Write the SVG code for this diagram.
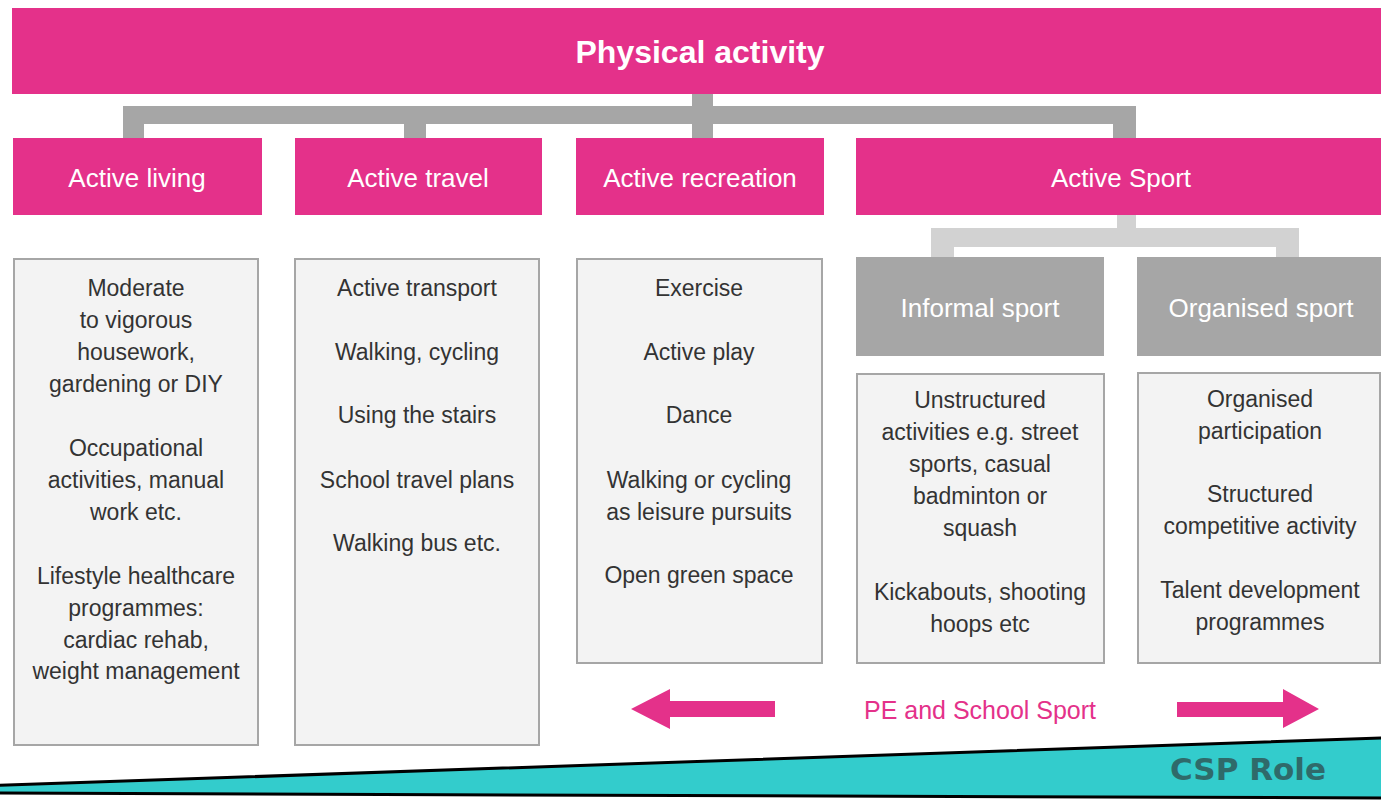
<svg xmlns="http://www.w3.org/2000/svg" width="1381" height="801" viewBox="0 0 1381 801">
<style>
.pink{fill:#e4318a}
.gbox{fill:#a6a6a6}
.cbox{fill:#f3f3f3;stroke:#a6a6a6;stroke-width:2}
.conn{fill:#a6a6a6}
.conn2{fill:#d2d2d2}
.h1{font-family:"Liberation Sans",Arial,sans-serif;font-weight:bold;font-size:32px;fill:#ffffff;text-anchor:middle}
.h2{font-family:"Liberation Sans",Arial,sans-serif;font-size:26px;fill:#ffffff;text-anchor:middle}
.t{font-family:"Liberation Sans",Arial,sans-serif;font-size:23px;fill:#333333;text-anchor:middle}
.pe{font-family:"Liberation Sans",Arial,sans-serif;font-size:25px;fill:#e4318a;text-anchor:middle}
.csp{font-family:"DejaVu Sans","Liberation Sans",sans-serif;font-weight:bold;font-size:31px;fill:#2f6a6a;text-anchor:middle}
</style>

<g id="connectors">
  <rect class="conn" x="692" y="93" width="21" height="14"/>
  <rect class="conn" x="123" y="106" width="1013" height="18"/>
  <rect class="conn" x="123" y="106" width="21" height="33"/>
  <rect class="conn" x="404" y="106" width="22" height="33"/>
  <rect class="conn" x="692" y="106" width="21" height="33"/>
  <rect class="conn" x="1113" y="106" width="23" height="33"/>
  <rect class="conn2" x="1117" y="214" width="19" height="16"/>
  <rect class="conn2" x="931" y="228" width="368" height="19"/>
  <rect class="conn2" x="931" y="228" width="23" height="30"/>
  <rect class="conn2" x="1276" y="228" width="23" height="30"/>
</g>

<g id="physical-activity">
  <rect class="pink" x="12" y="8" width="1369" height="86"/>
  <text class="h1" x="700" y="63">Physical activity</text>
</g>

<g id="active-living">
  <rect class="pink" x="13" y="138" width="249" height="77"/>
  <text class="h2" x="137" y="187">Active living</text>
</g>
<g id="active-travel">
  <rect class="pink" x="295" y="138" width="247" height="77"/>
  <text class="h2" x="418" y="187">Active travel</text>
</g>
<g id="active-recreation">
  <rect class="pink" x="576" y="138" width="248" height="77"/>
  <text class="h2" x="700" y="187">Active recreation</text>
</g>
<g id="active-sport">
  <rect class="pink" x="856" y="138" width="525" height="77"/>
  <text class="h2" x="1121" y="187">Active Sport</text>
</g>

<g id="informal-sport">
  <rect class="gbox" x="856" y="257" width="248" height="99"/>
  <text class="h2" x="980" y="317">Informal sport</text>
</g>
<g id="organised-sport">
  <rect class="gbox" x="1137" y="257" width="244" height="99"/>
  <text class="h2" x="1261" y="317">Organised sport</text>
</g>

<g id="living-details">
  <rect class="cbox" x="14" y="259" width="244" height="486"/>
  <text class="t" x="136" y="296">Moderate</text>
  <text class="t" x="136" y="328">to vigorous</text>
  <text class="t" x="136" y="360">housework,</text>
  <text class="t" x="136" y="392">gardening or DIY</text>
  <text class="t" x="136" y="456">Occupational</text>
  <text class="t" x="136" y="488">activities, manual</text>
  <text class="t" x="136" y="520">work etc.</text>
  <text class="t" x="136" y="584">Lifestyle healthcare</text>
  <text class="t" x="136" y="616">programmes:</text>
  <text class="t" x="136" y="648">cardiac rehab,</text>
  <text class="t" x="136" y="679">weight management</text>
</g>

<g id="travel-details">
  <rect class="cbox" x="295" y="259" width="244" height="486"/>
  <text class="t" x="417" y="296">Active transport</text>
  <text class="t" x="417" y="360">Walking, cycling</text>
  <text class="t" x="417" y="423">Using the stairs</text>
  <text class="t" x="417" y="488">School travel plans</text>
  <text class="t" x="417" y="551">Walking bus etc.</text>
</g>

<g id="recreation-details">
  <rect class="cbox" x="577" y="259" width="245" height="404"/>
  <text class="t" x="699" y="296">Exercise</text>
  <text class="t" x="699" y="360">Active play</text>
  <text class="t" x="699" y="423">Dance</text>
  <text class="t" x="699" y="488">Walking or cycling</text>
  <text class="t" x="699" y="520">as leisure pursuits</text>
  <text class="t" x="699" y="583">Open green space</text>
</g>

<g id="informal-details">
  <rect class="cbox" x="857" y="374" width="247" height="289"/>
  <text class="t" x="980" y="408">Unstructured</text>
  <text class="t" x="980" y="440">activities e.g. street</text>
  <text class="t" x="980" y="472">sports, casual</text>
  <text class="t" x="980" y="504">badminton or</text>
  <text class="t" x="980" y="536">squash</text>
  <text class="t" x="980" y="600">Kickabouts, shooting</text>
  <text class="t" x="980" y="632">hoops etc</text>
</g>

<g id="organised-details">
  <rect class="cbox" x="1138" y="373" width="242" height="290"/>
  <text class="t" x="1260" y="407">Organised</text>
  <text class="t" x="1260" y="439">participation</text>
  <text class="t" x="1260" y="502">Structured</text>
  <text class="t" x="1260" y="534">competitive activity</text>
  <text class="t" x="1260" y="598">Talent development</text>
  <text class="t" x="1260" y="630">programmes</text>
</g>

<g id="pe-school-sport">
  <polygon class="pink" points="775,701 670,701 670,689 631,709 670,729 670,717 775,717"/>
  <polygon class="pink" points="1177,702 1283,702 1283,689 1319,709 1283,728 1283,717 1177,717"/>
  <text class="pe" x="980" y="719">PE and School Sport</text>
</g>

<g id="csp-role">
  <polygon points="-20,786 1383,738 1383,798 -20,793" fill="#33cccc" stroke="#000000" stroke-width="3"/>
  <text class="csp" x="1248" y="780">CSP Role</text>
</g>
</svg>
